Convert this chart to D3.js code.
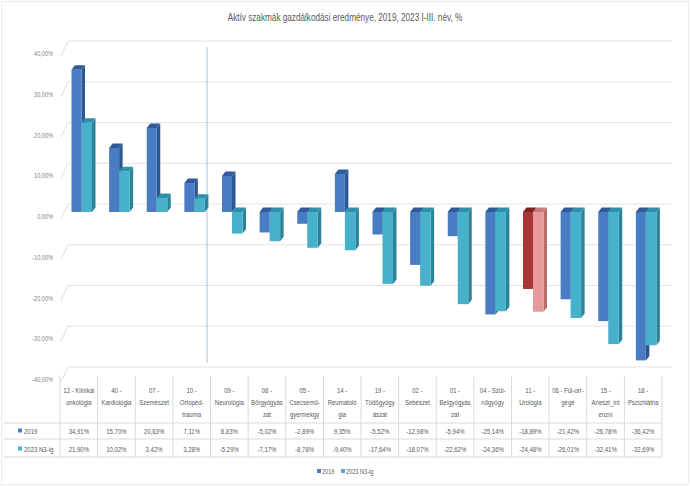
<!DOCTYPE html>
<html><head><meta charset="utf-8">
<script src="https://cdn.jsdelivr.net/npm/d3@7/dist/d3.min.js"></script>
<style>
body{margin:0;background:#fff;}
svg{display:block;font-family:"Liberation Sans",Arial,sans-serif;}
</style></head><body>
<svg id="c" width="690" height="486"></svg>
<script>
const title = "Aktív szakmák gazdálkodási eredménye, 2019, 2023 I-III. név, %";
const categories = [
  ["12 - Klinikai","onkológia"],
  ["40 -","Kardiológia"],
  ["07 -","Szemészet"],
  ["10 -","Ortopéd-","trauma"],
  ["09 -","Neurológia"],
  ["08 -","Bőrgyógyás","zat"],
  ["05 -","Csecsemő-","gyermekgy"],
  ["14 -","Reumatoló","gia"],
  ["19 -","Tüdőgyógy","ászat"],
  ["02 -","Sebészet"],
  ["01 -","Belgyógyás","zat"],
  ["04 - Szül-","nőgyógy"],
  ["11 -","Urológia"],
  ["06 - Fül-orr-","gégé"],
  ["15 -","Aneszt_int","enzív"],
  ["18 -","Pszichiátria"]
];
const seriesNames = ["2019","2023 N3-ig"];
const values2019 = [34.91,15.70,20.63,7.11,8.83,-5.02,-2.89,9.35,-5.52,-12.98,-5.94,-25.14,-18.89,-21.42,-26.78,-36.42];
const values2023 = [21.90,10.02,3.42,3.28,-5.29,-7.17,-8.78,-9.40,-17.64,-18.07,-22.62,-24.36,-24.48,-26.01,-32.41,-32.69];
const yTicks = [40,30,20,10,0,-10,-20,-30,-40];
const highlightIndex = 12;

const svg = d3.select("#c");
const txt = "#595959";
const fmt = v => d3.format(".2f")(v).replace(".", ",").replace("\u2212", "-") + "%";

// condensed text helper
function ctext(parent, x, y, str, size, anchor, fill, sx){
  return parent.append("text")
    .attr("transform", `translate(${x},${y}) scale(${sx||0.8},1)`)
    .attr("text-anchor", anchor).attr("font-size", size).attr("fill", fill).text(str);
}

// outer border
svg.append("rect").attr("x",1.5).attr("y",1.5).attr("width",687).attr("height",483)
  .attr("fill","none").attr("stroke","#ececec");

ctext(svg, 345, 21, title, 10, "middle", txt, 0.82);

const y = d3.scaleLinear().domain([-40,40]).range([375,49]);
const x = d3.scaleBand().domain(d3.range(categories.length)).range([60,662]).padding(0);
const bw = x.bandwidth();

// back wall gridlines
const gridOff = 8;
const g = svg.append("g");
yTicks.forEach(t=>{
  const yg = y(t)-gridOff;
  g.append("line").attr("x1",68).attr("x2",672).attr("y1",yg).attr("y2",yg)
    .attr("stroke","#e3e3e3").attr("stroke-width",1.2);
  g.append("line").attr("x1",61).attr("x2",68).attr("y1",yg+15).attr("y2",yg)
    .attr("stroke","#ead9d9").attr("stroke-width",1);
  ctext(svg, 53, y(t)+7, d3.format(".2f")(t).replace(".",",").replace("\u2212","-")+"%", 7, "end", "#7f7f7f", 0.8);
});

// vertical line
svg.append("line").attr("x1",207).attr("x2",207).attr("y1",47).attr("y2",363)
  .attr("stroke","#a9c0d3").attr("stroke-width",1);

const colors = [
  {front:"#4a7cc3", top:"#2f5b9a", side:"#2d5793"},
  {front:"#47b0cb", top:"#2e8fa8", side:"#2b8399"}
];
const hiColors = [
  {front:"#a83535", top:"#7e2424", side:"#7a2222"},
  {front:"#e79a9c", top:"#c77a7c", side:"#b86a6c"}
];
const dx = 3.5, dy = 4.5;

function bar(x0, x1, v, c){
  const yt = Math.min(y(0), y(v)), yb = Math.max(y(0), y(v));
  const bg = svg.append("g");
  bg.append("polygon").attr("points",[[x1,yt],[x1+dx,yt-dy],[x1+dx,yb-dy],[x1,yb]].join(" ")).attr("fill",c.side);
  bg.append("polygon").attr("points",[[x0,yt],[x0+dx,yt-dy],[x1+dx,yt-dy],[x1,yt]].join(" ")).attr("fill",c.top);
  bg.append("rect").attr("x",x0).attr("y",yt).attr("width",x1-x0).attr("height",yb-yt).attr("fill",c.front);
}

categories.forEach((cat,i)=>{
  const c0 = x(i);
  const cs = i===highlightIndex ? hiColors : colors;
  bar(c0+11.5, c0+21.5, values2019[i], cs[0]);
  bar(c0+21.5, c0+32, values2023[i], cs[1]);
});

// data table
const lineC = "#dadada";
const tb = svg.append("g");
[423,439,457].forEach(yy=>{
  tb.append("line").attr("x1",4).attr("x2",662).attr("y1",yy).attr("y2",yy).attr("stroke",lineC);
});
for(let i=0;i<=categories.length;i++){
  const xx = 60 + i*bw;
  tb.append("line").attr("x1",xx).attr("x2",xx).attr("y1",376).attr("y2",457).attr("stroke",lineC);
}
categories.forEach((cat,i)=>{
  const cx = x(i)+bw/2;
  cat.forEach((ln,k)=>{
    ctext(tb, cx, 393+k*12, ln, 7.5, "middle", txt, 0.8);
  });
  ctext(tb, cx, 434, fmt(values2019[i]), 7.5, "middle", txt, 0.8);
  ctext(tb, cx, 452, fmt(values2023[i]), 7.5, "middle", txt, 0.8);
});
[[434,0],[452,1]].forEach(([yy,s])=>{
  tb.append("rect").attr("x",18).attr("y",yy-5.5).attr("width",4).attr("height",4).attr("fill",colors[s].front);
  ctext(tb, 24, yy, seriesNames[s], 7.5, "start", txt, 0.8);
});

// legend
const lg = svg.append("g");
lg.append("rect").attr("x",317).attr("y",469).attr("width",4).attr("height",4).attr("fill",colors[0].front);
ctext(lg, 322, 474, seriesNames[0], 7, "start", txt, 0.8);
lg.append("rect").attr("x",341).attr("y",469).attr("width",4).attr("height",4).attr("fill",colors[1].front);
ctext(lg, 346, 474, seriesNames[1], 7, "start", txt, 0.8);
</script>
</body></html>
